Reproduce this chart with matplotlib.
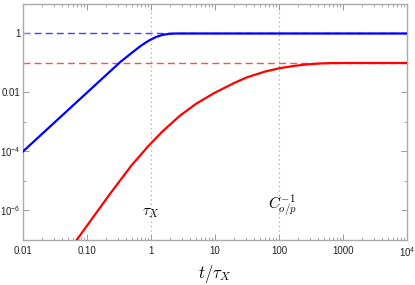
import numpy as np
import matplotlib
matplotlib.use('Agg')
from matplotlib import pyplot as plt
from matplotlib.ticker import FixedLocator, FixedFormatter, NullFormatter

plt.rcParams['font.family'] = 'Liberation Sans'
plt.rcParams['mathtext.fontset'] = 'custom'
plt.rcParams['mathtext.rm'] = 'Liberation Sans'
plt.rcParams['mathtext.it'] = 'Liberation Sans:italic'

# values
blueT = [0.01, 0.054, 0.33, 0.5, 0.68, 0.8, 0.96, 1.2, 1.5, 1.98, 2.5, 3.0, 1e4]
blueY = [1e-4, 2.9e-3, 0.107, 0.22, 0.37, 0.47, 0.60, 0.76, 0.895, 0.98, 0.998, 1.0, 1.0]

redT = [0.069, 0.229, 0.5, 0.91, 1.5, 2.84, 5, 9.4, 20, 31, 60, 104, 180, 270,
        450, 630, 1000, 1e4]
redY = [1e-7, 3.66e-6, 3.44e-5, 1.53e-4, 4.72e-4, 1.64e-3, 4.06e-3, 9.2e-3, 0.0211,
        0.0321, 0.0509, 0.0671, 0.0805, 0.0891, 0.0966, 0.0989, 0.1, 0.1]

blueLevel = 1.0
redLevel = 0.1
tauX = 1
tauC = 100

xTicks = [0.01, 0.1, 1, 10, 100, 1000, 1e4]
xTickLabels = ['0.01', '0.10', '1', '10', '100', '1000', r'$10^4$']
yTicks = [1e-6, 1e-4, 1e-2, 1]
yTickLabels = [r'$10^{-6}$', r'$10^{-4}$', '0.01', '1']

fig = plt.figure(figsize=(4.15, 2.85), dpi=100)
ax = fig.add_axes([0.0554, 0.158, 0.9253, 0.828])

ax.axhline(blueLevel, color=(0.25, 0.25, 1.0), lw=1.0, ls=(0, (5, 3)), zorder=1)
ax.axhline(redLevel, color=(1.0, 0.3, 0.3), lw=1.0, ls=(0, (5, 3)), zorder=1)
ax.axvline(tauX, color='#999999', lw=0.8, ls=(0, (1, 3)), zorder=0)
ax.axvline(tauC, color='#999999', lw=0.8, ls=(0, (1, 3)), zorder=0)

ax.plot(blueT, blueY, color='#0000ff', lw=1.6, zorder=3)
ax.plot(redT, redY, color='#ff0000', lw=1.6, zorder=3)

ax.set_xscale('log')
ax.set_yscale('log')
ax.set_xlim(0.01, 1e4)
ax.set_ylim(1e-7, 10)

ax.xaxis.set_major_locator(FixedLocator(xTicks))
ax.xaxis.set_major_formatter(FixedFormatter(xTickLabels))
ax.xaxis.set_minor_locator(FixedLocator([m * 10.0**e for e in range(-2, 4) for m in range(2, 10)]))
ax.xaxis.set_minor_formatter(NullFormatter())
ax.yaxis.set_major_locator(FixedLocator(yTicks))
ax.yaxis.set_major_formatter(FixedFormatter(yTickLabels))
ax.yaxis.set_minor_locator(FixedLocator([1e-7, 1e-5, 1e-3, 0.1, 10]))
ax.yaxis.set_minor_formatter(NullFormatter())

ax.tick_params(which='both', direction='in', top=True, right=True, color='#999999',
               labelsize=7, labelcolor='#222222')
ax.tick_params(axis='y', pad=2)
ax.tick_params(axis='x', pad=4)
ax.tick_params(which='major', length=4, width=0.7)
ax.tick_params(which='minor', length=2, width=0.6)
for s in ax.spines.values():
    s.set_color('#aaaaaa')
    s.set_linewidth(1.0)

ax.text(tauX, 8.5e-7, r'$\tau_X$', ha='center', va='center', fontsize=11,
        math_fontfamily='cm')
ax.text(tauC * 1.12, 1.5e-6, r'$C_{o/p}^{-1}$', ha='center', va='center', fontsize=11,
        math_fontfamily='cm')
ax.set_xlabel(r'$t/\tau_X$', fontsize=12, math_fontfamily='cm', labelpad=3)

plt.savefig('out.png', dpi=100)
